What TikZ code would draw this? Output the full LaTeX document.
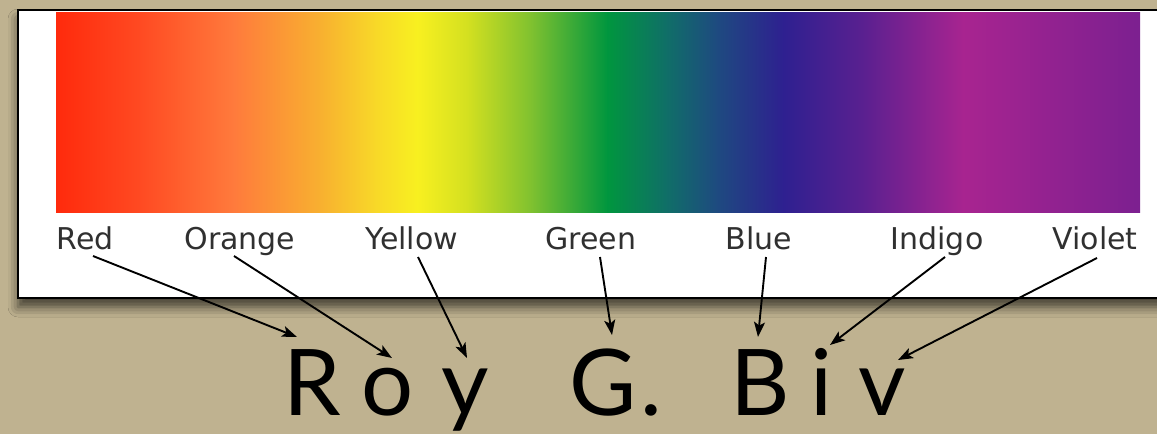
\documentclass[tikz,border=0pt]{standalone}
\usepackage{fontspec}
\usetikzlibrary{arrows.meta,calc,shadows.blur}
\newfontfamily\labelfont{DejaVu Sans}
\newfontfamily\bigfont{Lato}
\definecolor{bg}{HTML}{BFB290}
\definecolor{labelgray}{HTML}{303030}
\definecolor{s01}{HTML}{FF2A0C}
\definecolor{s02}{HTML}{FF4A22}
\definecolor{s03}{HTML}{FF7A3C}
\definecolor{s04}{HTML}{F8B030}
\definecolor{s05}{HTML}{F8D828}
\definecolor{s06}{HTML}{F8F020}
\definecolor{s07}{HTML}{D4E020}
\definecolor{s08}{HTML}{7CC030}
\definecolor{s09}{HTML}{00963E}
\definecolor{s10}{HTML}{106E68}
\definecolor{s11}{HTML}{1E4A80}
\definecolor{s12}{HTML}{2E2090}
\definecolor{s13}{HTML}{5A2090}
\definecolor{s14}{HTML}{A82490}
\definecolor{s15}{HTML}{7C2090}
\begin{document}
\begin{tikzpicture}[x=1pt,y=-1pt,
  lbl/.style={font=\labelfont\fontsize{30}{30}\selectfont, text=labelgray, inner sep=0pt, anchor=base},
  letter/.style={font=\bigfont\fontsize{92}{92}\selectfont, text=black, inner sep=0pt, anchor=base},
  arr/.style={-{Stealth[length=15pt,width=11pt,inset=3.5pt]}, line width=1.9pt, black},
  seg/.style={draw=none}]
\useasboundingbox (0,0) rectangle (1157,434);
\fill[bg] (0,0) rectangle (1157,434);
% panel
\draw[fill=white, line width=2.2pt, blur shadow={shadow xshift=0pt, shadow yshift=-9pt, shadow blur radius=10pt, shadow opacity=65}] (18,10) rectangle (1180,298);
% spectrum
\shade[seg, left color=s01, right color=s02] (56,12) rectangle (140.5,212);
\shade[seg, left color=s02, right color=s03] (140,12) rectangle (233.5,212);
\shade[seg, left color=s03, right color=s04] (233,12) rectangle (320.5,212);
\shade[seg, left color=s04, right color=s05] (320,12) rectangle (375.5,212);
\shade[seg, left color=s05, right color=s06] (375,12) rectangle (417.5,212);
\shade[seg, left color=s06, right color=s07] (417,12) rectangle (467.5,212);
\shade[seg, left color=s07, right color=s08] (467,12) rectangle (533.5,212);
\shade[seg, left color=s08, right color=s09] (533,12) rectangle (607.5,212);
\shade[seg, left color=s09, right color=s10] (607,12) rectangle (667.5,212);
\shade[seg, left color=s10, right color=s11] (667,12) rectangle (717.5,212);
\shade[seg, left color=s11, right color=s12] (717,12) rectangle (783.5,212);
\shade[seg, left color=s12, right color=s13] (783,12) rectangle (863.5,212);
\shade[seg, left color=s13, right color=s14] (863,12) rectangle (963.5,212);
\shade[seg, left color=s14, right color=s15] (963,12) rectangle (1140,212);
% labels
\node[lbl] (red) at (85,249) {Red};
\node[lbl] (orange) at (240,249) {Orange};
\node[lbl] (yellow) at (412,249) {Yellow};
\node[lbl] (green) at (591,249) {Green};
\node[lbl] (blue) at (759,249) {Blue};
\node[lbl] (indigo) at (937,249) {Indigo};
\node[lbl] (violet) at (1095,249) {Violet};
% big letters
\node[letter] (R) at (312,415) {R};
\node[letter] (o) at (388,415) {o};
\node[letter] (y) at (465,415) {y};
\node[letter] (G) at (603,415) {G};
\node[letter] (dot) at (651,415) {.};
\node[letter] (B) at (760,415) {B};
\node[letter] (i) at (822,415) {i};
\node[letter] (v) at (882,415) {v};
% arrows
\draw[arr] ($(red.base)+(8,7)$) -- ($(R.base)+(-15,-78)$);
\draw[arr] ($(orange.base)+(-6,7)$) -- ($(o.base)+(4,-57)$);
\draw[arr] ($(yellow.base)+(6,8)$) -- ($(y.base)+(2,-57)$);
\draw[arr] ($(green.base)+(9,8)$) -- ($(G.base)+(9,-80)$);
\draw[arr] ($(blue.base)+(7,8)$) -- ($(B.base)+(-2,-78)$);
\draw[arr] ($(indigo.base)+(8,8)$) -- ($(i.base)+(8,-70)$);
\draw[arr] ($(violet.base)+(2,9)$) -- ($(v.base)+(16,-55)$);
\end{tikzpicture}
\end{document}
